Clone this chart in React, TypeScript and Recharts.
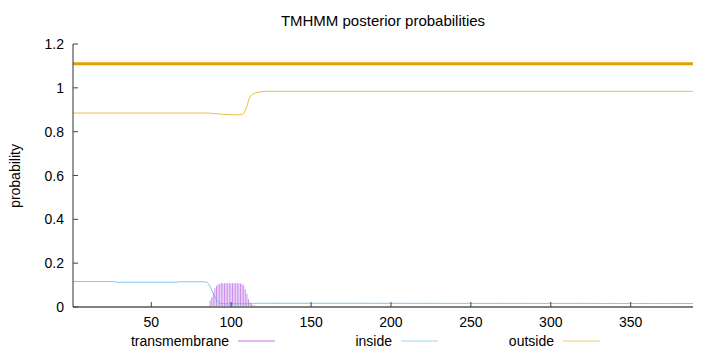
import { ComposedChart, Line, Bar, XAxis, YAxis } from "recharts"

const seqLength = 389
const xTicks = [50, 100, 150, 200, 250, 300, 350]
const yTicks = [0, 0.2, 0.4, 0.6, 0.8, 1, 1.2]

// transmembrane posterior, one value per residue from tmStart
const tmStart = 31
const tmValues = [
  0.003, 0.003, 0.003, 0.003, 0.003, 0.003, 0.003, 0.003, 0.003, 0.003,
  0.003, 0.003, 0.003, 0.003, 0.003, 0.003, 0.003, 0.003, 0.003, 0.003,
  0.003, 0.003, 0.003, 0.003, 0.003, 0.003, 0.003, 0.003, 0.003, 0.003,
  0.003, 0.003, 0.003, 0.003, 0.003, 0.003, 0.003, 0.003,
  0, 0, 0, 0, 0, 0, 0, 0, 0, 0, 0, 0, 0, 0, 0, 0, 0, 0,
  0.03, 0.045, 0.065, 0.085, 0.097, 0.103, 0.106, 0.108, 0.108, 0.108,
  0.108, 0.108, 0.108, 0.108, 0.108, 0.108, 0.108, 0.108, 0.108, 0.107,
  0.105, 0.098, 0.08, 0.06, 0.035, 0.022, 0.014, 0.009, 0.006, 0.003,
  0.001,
]

// inside posterior, read at its breakpoints
const insideX = [1, 27, 28, 66, 67, 84, 85, 86, 87, 88, 89, 90, 91, 92, 93, 95, 110, 114, 117, 389]
const insideY = [0.116, 0.116, 0.113, 0.113, 0.115, 0.115, 0.112, 0.105, 0.09, 0.075, 0.06, 0.045, 0.03, 0.02, 0.016, 0.015, 0.015, 0.016, 0.017, 0.016]

// outside posterior
const outsideX = [1, 86, 88, 90, 95, 100, 105, 107, 108, 109, 110, 111, 112, 113, 115, 118, 122, 389]
const outsideY = [0.885, 0.885, 0.883, 0.882, 0.879, 0.877, 0.877, 0.879, 0.885, 0.9, 0.92, 0.945, 0.96, 0.97, 0.977, 0.981, 0.984, 0.984]

// predicted topology line (all outside)
const topoX = [1, 389]
const topoY = [1.11, 1.11]

const rows: any[] = []
for (let i = 1; i <= seqLength; i++) {
  const row: any = { x: i }
  const t = i - tmStart
  if (t >= 0 && t < tmValues.length) row.tm = tmValues[t]
  const a = insideX.indexOf(i)
  if (a >= 0) row.inside = insideY[a]
  const b = outsideX.indexOf(i)
  if (b >= 0) row.outside = outsideY[b]
  const c = topoX.indexOf(i)
  if (c >= 0) row.topo = topoY[c]
  rows.push(row)
}

const font = "'Liberation Sans', Arial, sans-serif"

const BottomTick = (props: any) => {
  const { x, y, payload } = props
  return (
    <g>
      <line x1={x} x2={x} y1={y} y2={y - 5} stroke="#444" />
      <text x={x} y={y + 20} textAnchor="middle" fontSize={14} fontFamily={font} fill="#000">
        {payload.value}
      </text>
    </g>
  )
}

const TopTick = (props: any) => {
  const { x, y } = props
  return <line x1={x} x2={x} y1={y} y2={y + 5} stroke="#444" />
}

const LeftTick = (props: any) => {
  const { x, y, payload } = props
  return (
    <g>
      <line x1={x} x2={x + 5} y1={y} y2={y} stroke="#444" />
      <text x={x - 9} y={y + 5} textAnchor="end" fontSize={14} fontFamily={font} fill="#000">
        {payload.value}
      </text>
    </g>
  )
}

const RightTick = (props: any) => {
  const { x, y } = props
  return <line x1={x} x2={x - 5} y1={y} y2={y} stroke="#444" />
}

const legendItems = [
  { name: "transmembrane", color: "#9400d3", right: 229 },
  { name: "inside", color: "#56b4e9", right: 392 },
  { name: "outside", color: "#e69f00", right: 554 },
]

export default function App() {
  return (
    <div style={{ position: "relative", width: 720, height: 352, background: "#fff" }}>
      <style>{`body{margin:0}`}</style>
      <ComposedChart width={720} height={352} data={rows} margin={{ top: 44, right: 27, bottom: 0, left: 13 }}>
        <XAxis
          dataKey="x"
          type="number"
          domain={[1, seqLength]}
          ticks={xTicks}
          height={45}
          tickLine={false}
          tickSize={0}
          tickMargin={0}
          tick={BottomTick}
          axisLine={{ stroke: "#808080", strokeWidth: 2 }}
        />
        <XAxis
          xAxisId="t"
          orientation="top"
          dataKey="x"
          type="number"
          domain={[1, seqLength]}
          ticks={xTicks}
          height={0}
          tickLine={false}
          tickSize={0}
          tickMargin={0}
          tick={TopTick}
          axisLine={{ stroke: "#333" }}
        />
        <YAxis
          type="number"
          domain={[0, 1.2]}
          ticks={yTicks}
          width={60}
          tickLine={false}
          tickSize={0}
          tickMargin={0}
          tick={LeftTick}
          axisLine={{ stroke: "#333" }}
        />
        <YAxis
          yAxisId="r"
          orientation="right"
          type="number"
          domain={[0, 1.2]}
          ticks={yTicks}
          width={0}
          tickLine={false}
          tickSize={0}
          tickMargin={0}
          tick={RightTick}
          axisLine={{ stroke: "#777", strokeWidth: 2 }}
        />
        <Bar dataKey="tm" fill="#9b30e0" fillOpacity={0.55} barSize={1} isAnimationActive={false} />
        <Line dataKey="inside" stroke="#56b4e9" strokeOpacity={0.75} strokeWidth={1} dot={false} connectNulls isAnimationActive={false} />
        <Line dataKey="outside" stroke="#e69f00" strokeOpacity={0.7} strokeWidth={1} dot={false} connectNulls isAnimationActive={false} />
        <Line dataKey="topo" stroke="#e69f00" strokeWidth={3} dot={false} connectNulls isAnimationActive={false} />
      </ComposedChart>
      <svg width={720} height={352} style={{ position: "absolute", left: 0, top: 0, pointerEvents: "none" }} fontFamily={font}>
        <text x={383} y={26} textAnchor="middle" fontSize={15} fill="#000">
          TMHMM posterior probabilities
        </text>
        <text x={20} y={176} transform="rotate(-90 20 176)" textAnchor="middle" fontSize={14} fill="#000">
          probability
        </text>
        {legendItems.map((it) => (
          <g key={it.name}>
            <text x={it.right} y={346} textAnchor="end" fontSize={14} fill="#000">
              {it.name}
            </text>
            <line x1={it.right + 9} x2={it.right + 46} y1={341} y2={341} stroke={it.color} strokeOpacity={0.55} />
          </g>
        ))}
      </svg>
    </div>
  )
}
